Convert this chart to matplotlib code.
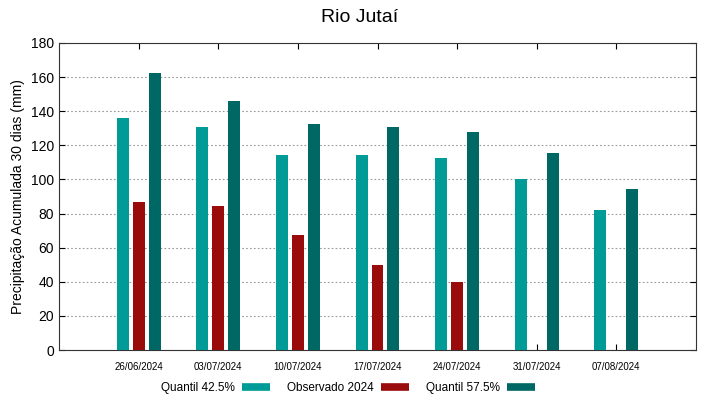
import matplotlib
matplotlib.use("Agg")
import matplotlib.pyplot as plt
from matplotlib.lines import Line2D
import numpy as np

plt.rcParams['font.family'] = ['Liberation Sans', 'DejaVu Sans']

dates = ["26/06/2024", "03/07/2024", "10/07/2024", "17/07/2024",
         "24/07/2024", "31/07/2024", "07/08/2024"]
q425 = [136, 130.7, 114.3, 114.3, 112.5, 100.2, 82]
obs2024 = [86.7, 84.4, 67.4, 49.8, 39.9, np.nan, np.nan]
q575 = [162.4, 146, 132.5, 130.7, 127.8, 115.5, 94.4]

c1, c2, c3 = "#009a97", "#9a0c0c", "#006864"

fig = plt.figure(figsize=(7.19, 3.99), dpi=100)
ax = fig.add_axes([59/719, 1-350/399, (696-59)/719, (350-43)/399])

x = np.arange(len(dates))
w = 0.15
ax.bar(x-0.2, q425, w, color=c1, zorder=3)
ax.bar(x, obs2024, w, color=c2, zorder=3)
ax.bar(x+0.2, q575, w, color=c3, zorder=3)

ax.set_xlim(-1, 7)
ax.set_ylim(0, 180)
ax.set_yticks(np.arange(0, 181, 20))
ax.set_xticks(x)
ax.set_xticklabels(dates, fontsize=7)
ax.tick_params(axis='x', direction='in', top=True, length=4, pad=9)
ax.tick_params(axis='y', direction='in', right=True, length=4, labelsize=10)
ax.yaxis.grid(True, linestyle=(0, (1.5, 2)), color='#999999', linewidth=0.8, zorder=0)
for s in ax.spines.values():
    s.set_color('#333333')
    s.set_linewidth(0.8)
ax.set_ylabel("Precipitação Acumulada 30 dias (mm)", fontsize=10)
fig.text(0.5, 1-17/399, "Rio Jutaí", ha='center', va='center', fontsize=14)

handles = [Line2D([], [], color=c, linewidth=5.5, solid_capstyle='butt') for c in (c1, c2, c3)]
fig.legend(handles, ["Quantil 42.5%", "Observado 2024", "Quantil 57.5%"],
           loc='center', bbox_to_anchor=(0.484, 0.028), ncol=3, frameon=False,
           markerfirst=False, fontsize=8.5, handlelength=2.4, columnspacing=1.4,
           handletextpad=0.6)

fig.savefig("out.png", dpi=100)
